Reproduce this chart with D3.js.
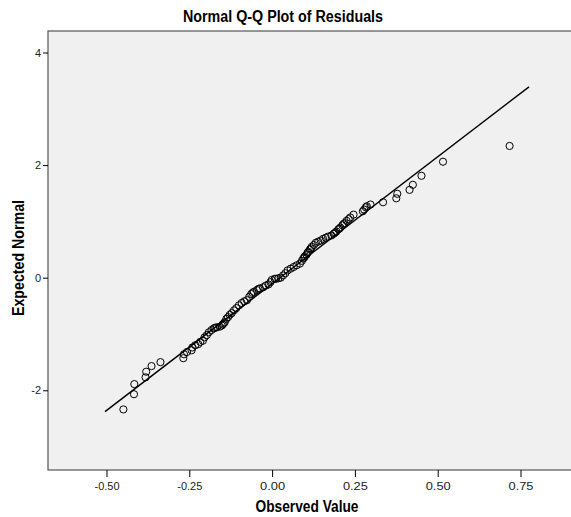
<!DOCTYPE html>
<html>
<head>
<meta charset="utf-8">
<script src="https://cdn.jsdelivr.net/npm/d3@7"></script>
<style>
  body { margin: 0; background: #fff; }
  svg text { font-family: "Liberation Sans", Arial, sans-serif; }
</style>
</head>
<body>
<div id="chart"></div>
<script>
// residuals (observed) vs expected normal
var observed = [
  -0.449, -0.417, -0.416, -0.382, -0.380, -0.364, -0.337, -0.268, -0.266, -0.257,
  -0.243, -0.241, -0.232, -0.223, -0.217, -0.209, -0.204, -0.197, -0.191, -0.183,
  -0.176, -0.172, -0.167, -0.158, -0.152, -0.149, -0.146, -0.143, -0.138, -0.133,
  -0.128, -0.122, -0.115, -0.108, -0.100, -0.092, -0.084, -0.076, -0.069, -0.063,
  -0.059, -0.055, -0.046, -0.041, -0.037, -0.027, -0.019, -0.011, -0.005, -0.001,
  0.008, 0.012, 0.019, 0.026, 0.033, 0.040, 0.047, 0.056, 0.065, 0.074,
  0.084, 0.090, 0.094, 0.097, 0.099, 0.104, 0.107, 0.109, 0.114, 0.117,
  0.120, 0.126, 0.132, 0.139, 0.147, 0.154, 0.162, 0.169, 0.179, 0.186,
  0.190, 0.194, 0.200, 0.203, 0.206, 0.212, 0.215, 0.219, 0.225, 0.231,
  0.236, 0.246, 0.274, 0.278, 0.283, 0.286, 0.297, 0.335, 0.375, 0.378,
  0.415, 0.425, 0.451, 0.516, 0.717
];
var expected = [
  -2.34, -2.07, -1.89, -1.77, -1.67, -1.57, -1.50, -1.43, -1.36, -1.32,
  -1.29, -1.24, -1.20, -1.18, -1.14, -1.12, -1.06, -1.02, -0.97, -0.93,
  -0.90, -0.89, -0.88, -0.87, -0.85, -0.83, -0.81, -0.79, -0.73, -0.70,
  -0.66, -0.63, -0.58, -0.54, -0.49, -0.45, -0.42, -0.40, -0.34, -0.29,
  -0.27, -0.25, -0.22, -0.20, -0.19, -0.17, -0.14, -0.12, -0.08, -0.04,
  -0.02, -0.02, -0.01, 0.00, 0.04, 0.08, 0.13, 0.16, 0.19, 0.22,
  0.25, 0.30, 0.34, 0.36, 0.38, 0.41, 0.44, 0.46, 0.50, 0.52,
  0.55, 0.58, 0.62, 0.64, 0.66, 0.69, 0.71, 0.73, 0.75, 0.78,
  0.80, 0.82, 0.86, 0.87, 0.89, 0.93, 0.95, 0.97, 1.01, 1.04,
  1.07, 1.12, 1.18, 1.21, 1.25, 1.27, 1.30, 1.34, 1.41, 1.49,
  1.56, 1.65, 1.81, 2.06, 2.34
];
// reference line end points
var lineX = [-0.5045, 0.7757];
var lineY = [-2.38, 3.39];

var xTicks = [-0.50, -0.25, 0.00, 0.25, 0.50, 0.75];
var yTicks = [-2, 0, 2, 4];

var width = 571, height = 517;
var mLeft = 48, mTop = 31, mRight = 574, mBottom = 470;

var svg = d3.select("#chart")
    .append("svg")
    .attr("width", width)
    .attr("height", height)

var x = d3.scaleLinear().domain([-0.6766, 0.9115]).range([mLeft, mRight])
var y = d3.scaleLinear().domain([-3.416, 4.382]).range([mBottom, mTop])

// plain hyphen like SPSS, not the unicode minus
var hyphen = f => d => f(d).replace("\u2212", "-")

// plot background
svg.append("rect")
    .attr("x", mLeft)
    .attr("y", mTop)
    .attr("width", mRight - mLeft)
    .attr("height", mBottom - mTop)
    .attr("fill", "#f0f0f0")
    .attr("stroke", "#555")
    .attr("stroke-width", 1.2)

var xAxis = svg.append("g")
    .attr("transform", "translate(0," + mBottom + ")")
    .call(d3.axisBottom(x).tickValues(xTicks).tickFormat(hyphen(d3.format(".2f"))).tickSize(7).tickPadding(5))
xAxis.select(".domain").remove()
xAxis.selectAll("text")
    .style("font-size", "11px")
    .attr("fill", "#222")
    .attr("textLength", 25)
    .attr("lengthAdjust", "spacingAndGlyphs")

var yAxis = svg.append("g")
    .attr("transform", "translate(" + mLeft + ",0)")
    .call(d3.axisLeft(y).tickValues(yTicks).tickFormat(hyphen(d3.format("d"))).tickSize(5).tickPadding(2))
yAxis.select(".domain").remove()
yAxis.selectAll("text").style("font-size", "11px").attr("fill", "#222")

svg.append("line")
    .attr("x1", x(lineX[0]))
    .attr("y1", y(lineY[0]))
    .attr("x2", x(lineX[1]))
    .attr("y2", y(lineY[1]))
    .attr("stroke", "#000")
    .attr("stroke-width", 1.4)

svg.append("g")
    .selectAll("circle")
    .data(observed)
    .enter()
    .append("circle")
    .attr("cx", d => x(d))
    .attr("cy", (d, i) => y(expected[i]))
    .attr("r", 3.6)
    .attr("fill", "none")
    .attr("stroke", "#000")
    .attr("stroke-width", 1)

svg.append("text")
    .attr("x", 283)
    .attr("y", 22)
    .attr("text-anchor", "middle")
    .attr("textLength", 200)
    .attr("lengthAdjust", "spacingAndGlyphs")
    .style("font-size", "16px")
    .style("font-weight", "bold")
    .text("Normal Q-Q Plot of Residuals")

svg.append("text")
    .attr("x", 307)
    .attr("y", 512)
    .attr("text-anchor", "middle")
    .attr("textLength", 103)
    .attr("lengthAdjust", "spacingAndGlyphs")
    .style("font-size", "16px")
    .style("font-weight", "bold")
    .text("Observed Value")

svg.append("text")
    .attr("transform", "translate(24,258) rotate(-90)")
    .attr("text-anchor", "middle")
    .attr("textLength", 116)
    .attr("lengthAdjust", "spacingAndGlyphs")
    .style("font-size", "16px")
    .style("font-weight", "bold")
    .text("Expected Normal")
</script>
</body>
</html>
